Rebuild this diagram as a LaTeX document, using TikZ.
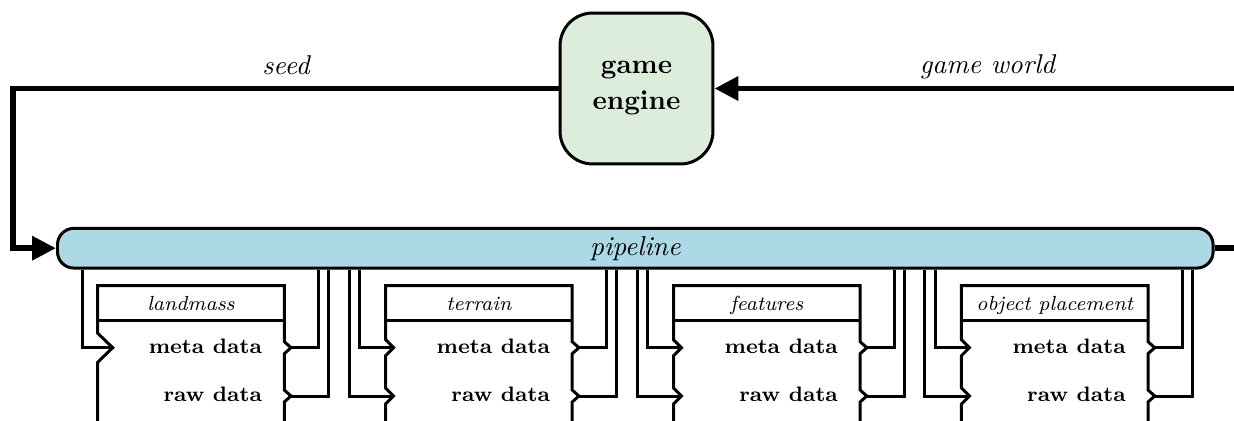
\documentclass[tikz,border=0pt]{standalone}
\usepackage{fontspec}
\usetikzlibrary{arrows.meta}
\definecolor{engfill}{RGB}{221,237,219}
\definecolor{pipefill}{RGB}{173,216,230}
\tikzset{
  mainline/.style={line width=2.2pt},
  mainarrow/.style={mainline,-{Triangle[length=8.8pt,width=8.5pt]}},
  conn/.style={line width=1.1pt},
  modbox/.style={line width=1.1pt,fill=white},
  porttext/.style={font=\fontsize{7.7}{9}\selectfont\bfseries,anchor=mid east,inner sep=0pt},
  modtitle/.style={font=\fontsize{7.5}{9}\selectfont\itshape,anchor=mid,inner sep=0pt},
  edgelabel/.style={font=\itshape,anchor=base,inner sep=0pt},
}
\begin{document}
\begin{tikzpicture}[x=0.3676pt,y=-0.3676pt]
\clip (0,0) rectangle (1234,421);
% game engine
\node[draw,line width=1.1pt,fill=engfill,rounded corners=12pt,minimum width=56.2pt,minimum height=55.5pt,align=center,font=\fontsize{10}{13.2}\selectfont\bfseries] (ge) at (636.5,88.5) {game\\engine};
% pipeline
\node[draw,line width=1.1pt,fill=pipefill,rounded corners=6pt,minimum width=424.8pt,minimum height=14.6pt,inner sep=0pt,font=\itshape] (pipe) at (635.3,248.2) {pipeline};
% main loop
\coordinate (lc) at (12.7,88.5);
\coordinate (rc) at (1262,88.5);
\coordinate (pe) at (1262,248.2);
\draw[mainarrow] (ge.west) -- (lc) |- (pipe.west);
\draw[mainarrow] (rc) -- (ge.east);
\draw[mainline] (pipe.east) -- (pe);
\node[edgelabel] (seedl) at (286,74.5) {seed};
\node[edgelabel] (gwl) at (987.5,73.5) {game world};
% landmass module
\begin{scope}[shift={(97.7,0)}]
  \coordinate (lm-vmi) at (-15.4,0);
  \coordinate (lm-vmo) at (220.6,0);
  \coordinate (lm-vro) at (230.6,0);
  \coordinate (lm-mi) at (15,347.7);
  \coordinate (lm-mo) at (193.3,347.7);
  \coordinate (lm-ro) at (193.3,396);
  \filldraw[modbox] (0,440) -- (0,362.2) -- (lm-mi) -- (0,333.2) -- (0,285.7) -- (186.6,285.7)
    -- (186.6,341.7) -- (lm-mo) -- (186.6,353.7) -- (186.6,390) -- (lm-ro) -- (186.6,402) -- (186.6,440);
  \draw[line width=1.1pt] (0,320.7) -- (186.6,320.7);
  \node[modtitle] (lm) at (93.3,305) {landmass};
  \node[porttext] (lm-m) at (165,347.7) {meta data};
  \node[porttext] (lm-r) at (165,396) {raw data};
\end{scope}
\draw[conn] (pipe.south -| lm-vmi) |- (lm-mi);
\draw[conn] (lm-mo) -| (pipe.south -| lm-vmo);
\draw[conn] (lm-ro) -| (pipe.south -| lm-vro);
% other modules
\foreach \L/\nm/\ttl in {385.6/tr/terrain,673.5/ft/features,961.4/op/object placement}{
  \begin{scope}[shift={(\L,0)}]
    \coordinate (\nm-vri) at (-36.5,0);
    \coordinate (\nm-vmi) at (-26,0);
    \coordinate (\nm-vmo) at (220.6,0);
    \coordinate (\nm-vro) at (230.6,0);
    \coordinate (\nm-mi) at (8,347.7);
    \coordinate (\nm-ri) at (8,396);
    \coordinate (\nm-mo) at (193.3,347.7);
    \coordinate (\nm-ro) at (193.3,396);
    \filldraw[modbox] (0,440) -- (0,404) -- (\nm-ri) -- (0,388) -- (0,355.7) -- (\nm-mi) -- (0,339.7) -- (0,285.7) -- (186.6,285.7)
      -- (186.6,341.7) -- (\nm-mo) -- (186.6,353.7) -- (186.6,390) -- (\nm-ro) -- (186.6,402) -- (186.6,440);
    \draw[line width=1.1pt] (0,320.7) -- (186.6,320.7);
    \node[modtitle] (\nm) at (93.3,305) {\ttl};
    \node[porttext] (\nm-m) at (165,347.7) {meta data};
    \node[porttext] (\nm-r) at (165,396) {raw data};
  \end{scope}
  \draw[conn] (pipe.south -| \nm-vmi) |- (\nm-mi);
  \draw[conn] (pipe.south -| \nm-vri) |- (\nm-ri);
  \draw[conn] (\nm-mo) -| (pipe.south -| \nm-vmo);
  \draw[conn] (\nm-ro) -| (pipe.south -| \nm-vro);
}
\end{tikzpicture}
\end{document}
